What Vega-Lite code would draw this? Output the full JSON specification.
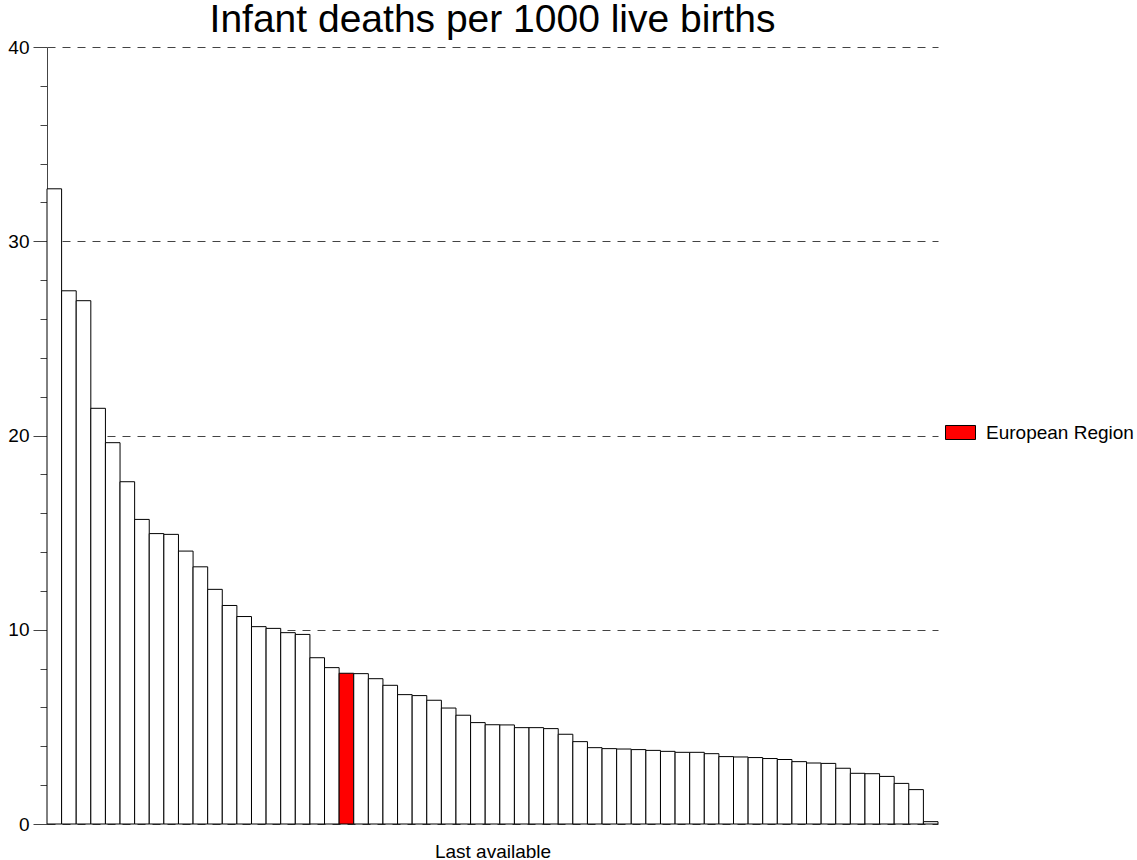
{
  "$schema": "https://vega.github.io/schema/vega-lite/v6.json",
  "width": 891,
  "height": 777,
  "autosize": {"type": "none"},
  "padding": {"left": 47, "top": 47, "right": 199, "bottom": 36},
  "background": "white",
  "title": {"text": "Infant deaths per 1000 live births", "font": "Liberation Sans", "fontSize": 39, "fontWeight": "normal", "color": "black", "anchor": "middle", "offset": -2},
  "config": {"view": {"stroke": null}, "font": "Liberation Sans"},
  "data": {"values": [
    {"id": 1, "value": 32.7, "group": "Other"},
    {"id": 2, "value": 27.45, "group": "Other"},
    {"id": 3, "value": 26.94, "group": "Other"},
    {"id": 4, "value": 21.4, "group": "Other"},
    {"id": 5, "value": 19.63, "group": "Other"},
    {"id": 6, "value": 17.62, "group": "Other"},
    {"id": 7, "value": 15.68, "group": "Other"},
    {"id": 8, "value": 14.95, "group": "Other"},
    {"id": 9, "value": 14.91, "group": "Other"},
    {"id": 10, "value": 14.05, "group": "Other"},
    {"id": 11, "value": 13.24, "group": "Other"},
    {"id": 12, "value": 12.08, "group": "Other"},
    {"id": 13, "value": 11.25, "group": "Other"},
    {"id": 14, "value": 10.68, "group": "Other"},
    {"id": 15, "value": 10.16, "group": "Other"},
    {"id": 16, "value": 10.07, "group": "Other"},
    {"id": 17, "value": 9.85, "group": "Other"},
    {"id": 18, "value": 9.76, "group": "Other"},
    {"id": 19, "value": 8.56, "group": "Other"},
    {"id": 20, "value": 8.05, "group": "Other"},
    {"id": 21, "value": 7.76, "group": "European Region"},
    {"id": 22, "value": 7.74, "group": "Other"},
    {"id": 23, "value": 7.48, "group": "Other"},
    {"id": 24, "value": 7.14, "group": "Other"},
    {"id": 25, "value": 6.66, "group": "Other"},
    {"id": 26, "value": 6.61, "group": "Other"},
    {"id": 27, "value": 6.37, "group": "Other"},
    {"id": 28, "value": 5.97, "group": "Other"},
    {"id": 29, "value": 5.6, "group": "Other"},
    {"id": 30, "value": 5.22, "group": "Other"},
    {"id": 31, "value": 5.11, "group": "Other"},
    {"id": 32, "value": 5.1, "group": "Other"},
    {"id": 33, "value": 4.96, "group": "Other"},
    {"id": 34, "value": 4.96, "group": "Other"},
    {"id": 35, "value": 4.91, "group": "Other"},
    {"id": 36, "value": 4.62, "group": "Other"},
    {"id": 37, "value": 4.24, "group": "Other"},
    {"id": 38, "value": 3.93, "group": "Other"},
    {"id": 39, "value": 3.88, "group": "Other"},
    {"id": 40, "value": 3.86, "group": "Other"},
    {"id": 41, "value": 3.83, "group": "Other"},
    {"id": 42, "value": 3.79, "group": "Other"},
    {"id": 43, "value": 3.74, "group": "Other"},
    {"id": 44, "value": 3.69, "group": "Other"},
    {"id": 45, "value": 3.69, "group": "Other"},
    {"id": 46, "value": 3.62, "group": "Other"},
    {"id": 47, "value": 3.47, "group": "Other"},
    {"id": 48, "value": 3.45, "group": "Other"},
    {"id": 49, "value": 3.42, "group": "Other"},
    {"id": 50, "value": 3.37, "group": "Other"},
    {"id": 51, "value": 3.32, "group": "Other"},
    {"id": 52, "value": 3.21, "group": "Other"},
    {"id": 53, "value": 3.14, "group": "Other"},
    {"id": 54, "value": 3.12, "group": "Other"},
    {"id": 55, "value": 2.87, "group": "Other"},
    {"id": 56, "value": 2.61, "group": "Other"},
    {"id": 57, "value": 2.59, "group": "Other"},
    {"id": 58, "value": 2.45, "group": "Other"},
    {"id": 59, "value": 2.09, "group": "Other"},
    {"id": 60, "value": 1.77, "group": "Other"},
    {"id": 61, "value": 0.12, "group": "Other"}
  ]},
  "mark": {"type": "bar", "stroke": "black", "strokeWidth": 1},
  "encoding": {
    "x": {
      "field": "id", "type": "ordinal", "sort": null,
      "scale": {"paddingInner": 0, "paddingOuter": 0},
      "axis": {"title": "Last available", "labels": false, "ticks": false, "domain": false, "titleFont": "Liberation Sans", "titleFontSize": 19, "titleFontWeight": "normal", "titleColor": "black", "titleBaseline": "alphabetic", "titlePadding": 33}
    },
    "y": {
      "field": "value", "type": "quantitative",
      "scale": {"domain": [0, 40], "nice": false},
      "axis": {
        "title": null,
        "values": [0, 2, 4, 6, 8, 10, 12, 14, 16, 18, 20, 22, 24, 26, 28, 30, 32, 34, 36, 38, 40],
        "tickSize": {"condition": {"test": "datum.value % 10 === 0", "value": 14}, "value": 7},
        "labelExpr": "datum.value % 10 === 0 ? datum.label : ''",
        "labelOverlap": false,
        "labelFont": "Liberation Sans",
        "labelFontSize": 19,
        "labelColor": "black",
        "labelPadding": 4,
        "grid": true,
        "gridDash": [8, 7],
        "gridColor": "#444",
        "gridOpacity": {"condition": {"test": "datum.value % 10 === 0", "value": 1}, "value": 0},
        "domainColor": "#444",
        "tickColor": "#444"
      }
    },
    "color": {
      "field": "group", "type": "nominal",
      "scale": {"domain": ["European Region", "Other"], "range": ["#ff0000", "#ffffff"]},
      "legend": {"values": ["European Region"], "title": null, "orient": "none", "legendX": 898, "legendY": 370, "symbolType": "M-1,-0.467H1V0.467H-1Z", "symbolSize": 900, "symbolStrokeColor": "black", "symbolStrokeWidth": 1, "labelFontSize": 19, "labelFont": "Liberation Sans", "labelColor": "black", "labelOffset": 10, "padding": 0}
    }
  }
}
